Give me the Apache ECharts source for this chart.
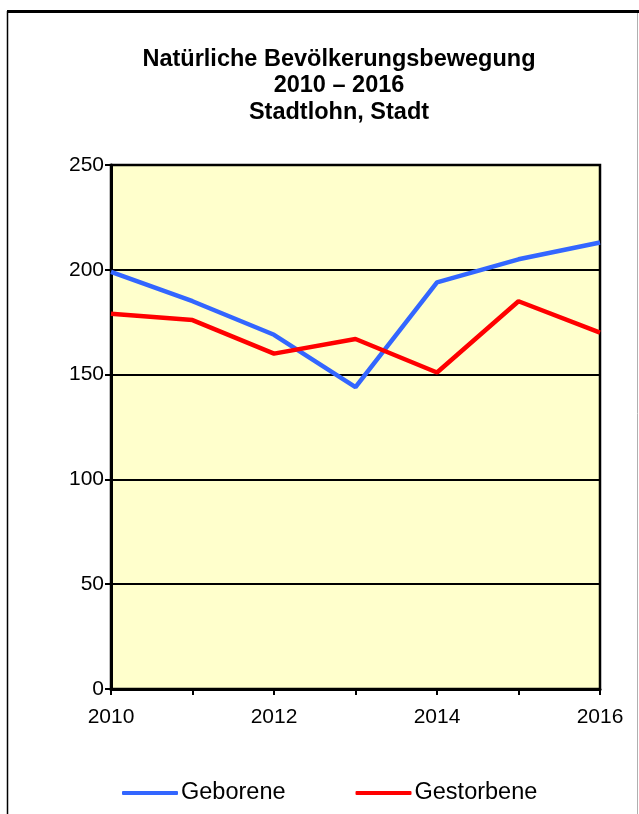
<!DOCTYPE html>
<html>
<head>
<meta charset="utf-8">
<script src="https://cdn.jsdelivr.net/npm/echarts@6/dist/echarts.min.js"></script>
<style>
  html, body { margin: 0; padding: 0; background: #ffffff; }
  #chart { width: 639px; height: 814px; }
</style>
</head>
<body>
<div id="chart"></div>
<script>
// Natürliche Bevölkerungsbewegung, Stadtlohn
const years = ['2010', '2011', '2012', '2013', '2014', '2015', '2016'];
const geborene = [199, 185, 169, 144, 194, 205, 213];
const gestorbene = [179, 176, 160, 167, 151, 185, 170];
const titleLines = ['Natürliche Bevölkerungsbewegung', '2010 – 2016', 'Stadtlohn, Stadt'];

const font = '"Liberation Sans", Arial, sans-serif';
const chart = echarts.init(document.getElementById('chart'), null, { renderer: 'canvas' });

chart.setOption({
  animation: false,
  backgroundColor: '#ffffff',
  graphic: [
    // frame around the chart
    { type: 'line', shape: { x1: 7, y1: 11.5, x2: 639, y2: 11.5 }, style: { stroke: '#000', lineWidth: 3 } },
    { type: 'line', shape: { x1: 7.5, y1: 11, x2: 7.5, y2: 814 }, style: { stroke: '#000', lineWidth: 1.5 } },
    { type: 'line', shape: { x1: 637.5, y1: 13, x2: 637.5, y2: 814 }, style: { stroke: '#b0b0b0', lineWidth: 1 } },
    // three-line heading
    {
      type: 'text',
      x: 339,
      y: 46,
      style: {
        text: titleLines.join('\n'),
        textAlign: 'center',
        textVerticalAlign: 'top',
        fontFamily: font,
        fontSize: 23.5,
        fontWeight: 'bold',
        lineHeight: 26.5,
        fill: '#000'
      }
    }
  ],
  legend: {
    top: 776,
    left: 117,
    itemWidth: 56,
    itemHeight: 4,
    itemGap: 70,
    icon: 'roundRect',
    textStyle: { fontFamily: font, fontSize: 23.5, color: '#000', padding: [0, 0, 0, -2] },
    data: ['Geborene', 'Gestorbene']
  },
  grid: { left: 111, right: 39, top: 165, bottom: 125, show: true, backgroundColor: '#FFFFCC', borderColor: '#000', borderWidth: 2.5 },
  xAxis: {
    type: 'category',
    data: years,
    boundaryGap: false,
    axisLine: { lineStyle: { color: '#000', width: 3 } },
    axisTick: { show: true, interval: 0, length: 6, lineStyle: { color: '#000', width: 2 } },
    axisLabel: { interval: 1, fontFamily: font, fontSize: 21, color: '#000', margin: 18 },
    splitLine: { show: false }
  },
  yAxis: {
    type: 'value',
    min: 0,
    max: 250,
    interval: 50,
    axisLine: { show: true, lineStyle: { color: '#000', width: 3 } },
    axisTick: { show: true, length: 6, lineStyle: { color: '#000', width: 2 } },
    axisLabel: { fontFamily: font, fontSize: 21, color: '#000', margin: 7 },
    splitLine: { show: true, lineStyle: { color: '#000', width: 2 } }
  },
  series: [
    {
      name: 'Geborene',
      type: 'line',
      data: geborene,
      symbol: 'none',
      color: '#3366FF',
      lineStyle: { color: '#3366FF', width: 4.5 },
      z: 3
    },
    {
      name: 'Gestorbene',
      type: 'line',
      data: gestorbene,
      symbol: 'none',
      color: '#FF0000',
      lineStyle: { color: '#FF0000', width: 4.5 },
      z: 3
    }
  ]
});
</script>
</body>
</html>
